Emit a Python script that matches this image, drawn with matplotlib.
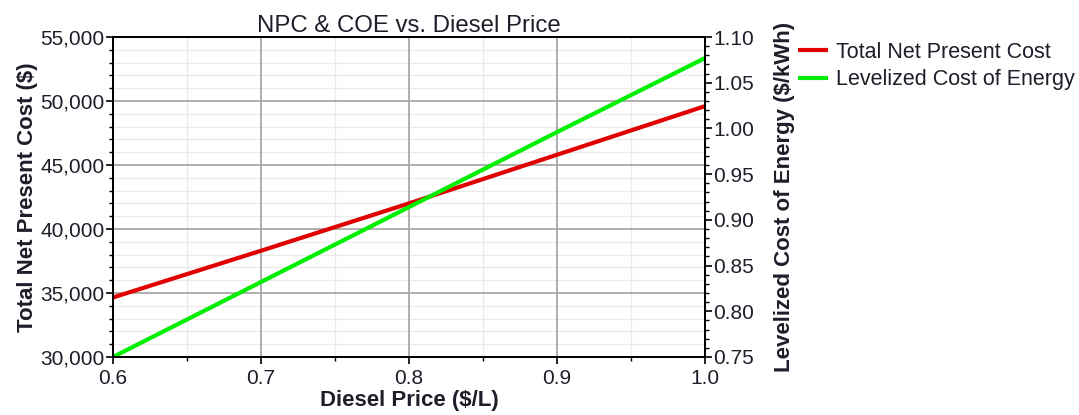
import matplotlib
matplotlib.use("Agg")
import matplotlib.pyplot as plt
from matplotlib.ticker import MultipleLocator, FuncFormatter

plt.rcParams['font.family'] = ['Liberation Sans', 'DejaVu Sans']

# data
diesel_price = [0.6, 0.7, 0.8, 0.9, 1.0]
npc = [34650, 38300, 42000, 45800, 49600]
coe = [0.750, 0.832, 0.914, 0.996, 1.077]

txt = '#1e1e2a'
rect = [0.1047, 0.1398, 0.5487, 0.771]

fig = plt.figure(figsize=(10.79, 4.15), dpi=100)
# background axes only for the light minor grid, so major lines sit on top
bg = fig.add_axes(rect, zorder=0)
ax = fig.add_axes(rect, zorder=1, sharex=bg, sharey=bg)
ax.patch.set_visible(False)
ax2 = ax.twinx()

l1, = ax.plot(diesel_price, npc, color='#e00000', lw=3, solid_capstyle='butt',
              label='Total Net Present Cost')
l2, = ax2.plot(diesel_price, coe, color='#00ee00', lw=3, solid_capstyle='butt',
               label='Levelized Cost of Energy')

ax.set_xlim(0.6, 1.0)
ax.set_ylim(30000, 55000)
ax2.set_ylim(0.75, 1.10)

ax.xaxis.set_major_locator(MultipleLocator(0.1))
ax.xaxis.set_minor_locator(MultipleLocator(0.05))
ax.yaxis.set_major_locator(MultipleLocator(5000))
ax.yaxis.set_minor_locator(MultipleLocator(1000))
ax2.yaxis.set_major_locator(MultipleLocator(0.05))
ax2.yaxis.set_minor_locator(MultipleLocator(0.01))

ax.xaxis.set_major_formatter(FuncFormatter(lambda v, p: f'{v:.1f}'))
ax.yaxis.set_major_formatter(FuncFormatter(lambda v, p: f'{v:,.0f}'))
ax2.yaxis.set_major_formatter(FuncFormatter(lambda v, p: f'{v:.2f}'))

bg.grid(which='minor', color='#ebebeb', lw=1.0)
bg.tick_params(which='both', length=0, labelleft=False, labelbottom=False)
for s in bg.spines.values():
    s.set_visible(False)
ax.grid(which='major', color='#a8a8a8', lw=1.3)

for a in (ax, ax2):
    for s in a.spines.values():
        s.set_linewidth(1.4)
        s.set_color('black')
    a.tick_params(which='major', length=5, width=1.2, labelsize=15, labelcolor=txt, pad=1)
    a.tick_params(which='minor', length=3, width=1.0)
ax.tick_params(axis='x', pad=4)

ax.set_title('NPC & COE vs. Diesel Price', fontsize=17.3, color=txt, pad=3)
ax.set_xlabel('Diesel Price ($/L)', fontsize=16, fontweight='bold', color=txt, labelpad=1)
ax.set_ylabel('Total Net Present Cost ($)', fontsize=16, fontweight='bold', color=txt, labelpad=2)
ax2.set_ylabel('Levelized Cost of Energy ($/kWh)', fontsize=16, fontweight='bold', color=txt,
               labelpad=14)

fig.legend(handles=[l1, l2], loc='upper left', bbox_to_anchor=(0.732, 0.92),
           frameon=False, fontsize=15.5, handlelength=1.35, handletextpad=0.4,
           labelspacing=0.3, borderaxespad=0, labelcolor=txt)

fig.savefig('out.png', dpi=100)
